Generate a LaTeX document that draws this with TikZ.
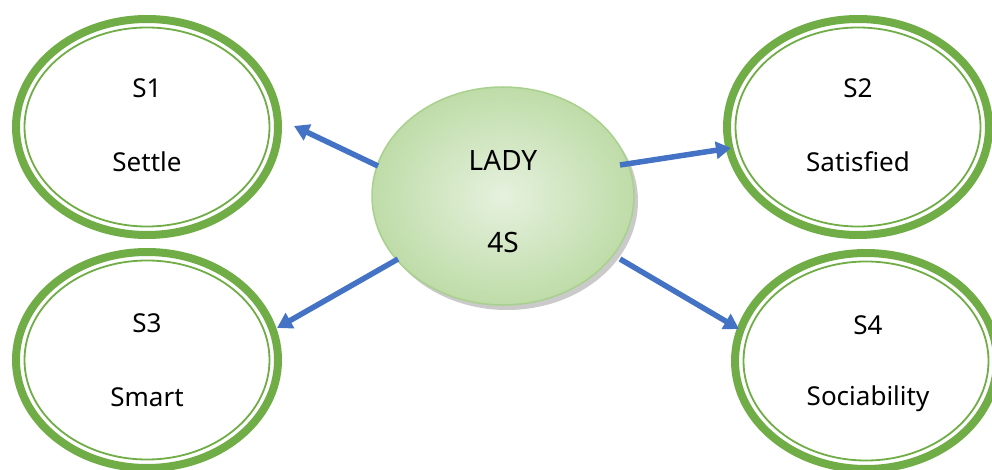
\documentclass[tikz,border=0pt]{standalone}
\usepackage{fontspec}
\setmainfont{Noto Sans}
\usetikzlibrary{shapes.geometric,arrows.meta,shadows}
\definecolor{ringgreen}{HTML}{70AD47}
\definecolor{ladyedge}{HTML}{A9D18E}
\definecolor{ladyin}{HTML}{E6F1DE}
\definecolor{ladyout}{HTML}{BEDCA8}
\definecolor{arrowblue}{HTML}{4472C4}
\tikzset{
  ring/.style={ellipse, minimum width=262pt, minimum height=216pt, draw=ringgreen, line width=8pt, fill=white, inner sep=0pt},
  ringin/.style={ellipse, minimum width=245pt, minimum height=199pt, draw=ringgreen, line width=1.8pt, inner sep=0pt},
  lady/.style={ellipse, minimum width=262pt, minimum height=218pt, draw=ladyedge, line width=1.5pt, inner sep=0pt,
    shading=radial, inner color=ladyin, outer color=ladyout,
    drop shadow={shadow xshift=4pt, shadow yshift=-5pt, opacity=0.35, fill=black!60}},
  lbl/.style={font=\fontsize{26}{30}\selectfont, align=center},
  biglbl/.style={font=\fontsize{28}{32}\selectfont, align=center},
  conn/.style={draw=arrowblue, line width=5.5pt, -{Triangle[length=15pt,width=17pt]}}
}
\begin{document}
\begin{tikzpicture}[x=1pt,y=-1pt]
\useasboundingbox (0,0) rectangle (992,470);
% rings
\node[ring] (s1) at (147,127) {};
\node[ringin] (s1i) at (147,127) {};
\node[ring] (s2) at (858,127) {};
\node[ringin] (s2i) at (858,127) {};
\node[ring] (s3) at (147,360) {};
\node[ringin] (s3i) at (147,360) {};
\node[ring] (s4) at (866,361) {};
\node[ringin] (s4i) at (866,361) {};
% labels
\node[lbl] (t1a) at (147,88) {S1};
\node[lbl] (t1b) at (147,162) {Settle};
\node[lbl] (t2a) at (858,88) {S2};
\node[lbl] (t2b) at (858,162) {Satisfied};
\node[lbl] (t3a) at (147,323) {S3};
\node[lbl] (t3b) at (147,397) {Smart};
\node[lbl] (t4a) at (868,325) {S4};
\node[lbl] (t4b) at (868,399) {Sociability};
% center
\node[lady] (lady) at (503,196) {};
\node[biglbl] (la) at (503,160) {LADY};
\node[biglbl] (lb) at (503,243) {4S};
% arrows
\coordinate (a1s) at (378,166);
\coordinate (a1e) at (294,126);
\coordinate (a2s) at (620,165);
\coordinate (a2e) at (731,148);
\coordinate (a3s) at (398,259);
\coordinate (a3e) at (277,328);
\coordinate (a4s) at (620,259);
\coordinate (a4e) at (739,329);
\draw[conn] (a1s) -- (a1e);
\draw[conn] (a2s) -- (a2e);
\draw[conn] (a3s) -- (a3e);
\draw[conn] (a4s) -- (a4e);
\end{tikzpicture}
\end{document}
